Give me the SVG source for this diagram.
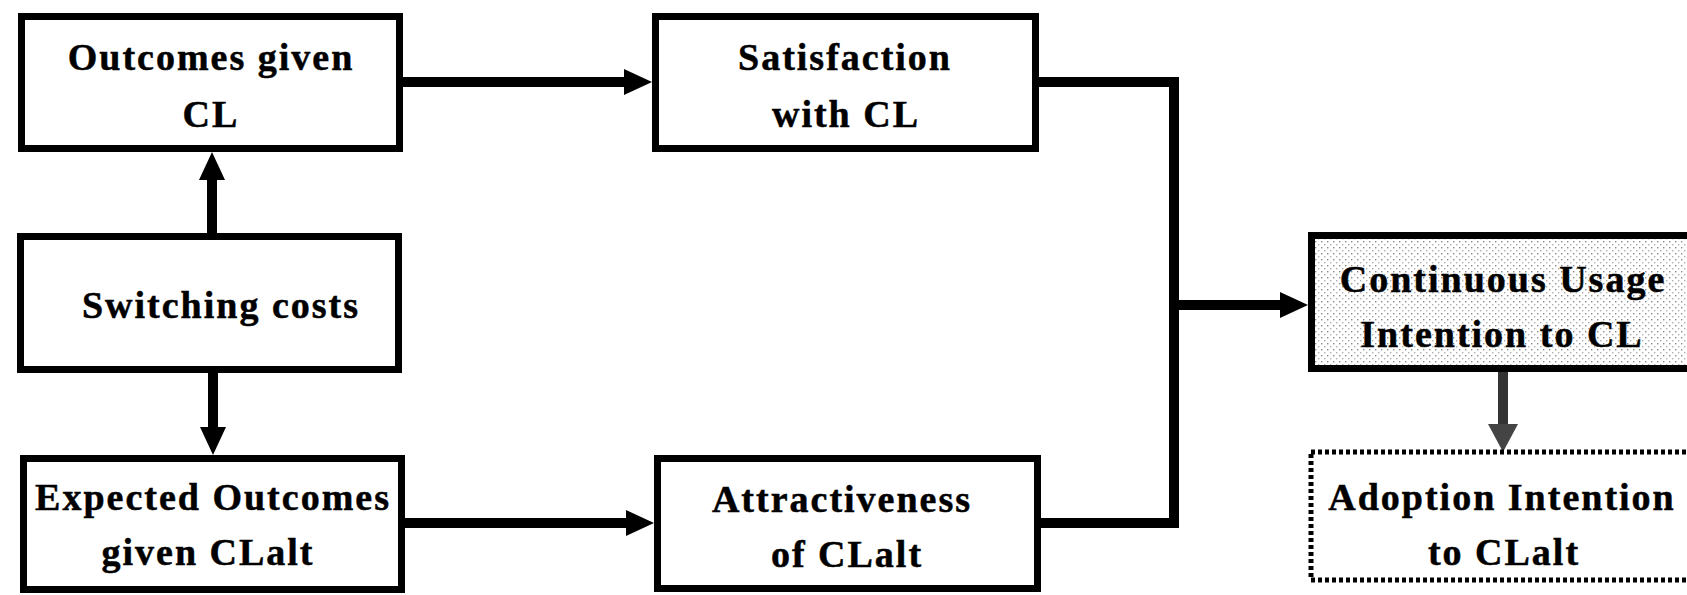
<svg xmlns="http://www.w3.org/2000/svg" width="1687" height="595" viewBox="0 0 1687 595">
<style>
.box{fill:#fff;stroke:#000;stroke-width:7}
.dbox{fill:#fff;stroke:#000;stroke-width:5;stroke-dasharray:4 3}
.lbl{font-family:"Liberation Serif","Times New Roman",serif;font-weight:bold;font-size:38px;letter-spacing:2px;text-anchor:middle;fill:#000;stroke:#000;stroke-width:0.5}
.con{fill:none;stroke:#000;stroke-width:10;stroke-linejoin:miter}
.con2{fill:none;stroke:#333;stroke-width:10}
</style>
<defs>
<pattern id="stip" width="6" height="6" patternUnits="userSpaceOnUse">
<rect width="6" height="6" fill="#fff"/>
<rect x="1" y="1" width="1.4" height="1.4" fill="#8a8a8a"/>
<rect x="4" y="4" width="1.4" height="1.4" fill="#b0b0b0"/>
</pattern>
<marker id="ah" markerUnits="userSpaceOnUse" viewBox="0 0 28 26" refX="0" refY="13" markerWidth="28" markerHeight="26" orient="auto">
<path d="M0,0 L28,13 L0,26 Z" fill="#000"/>
</marker>
<marker id="ah2" markerUnits="userSpaceOnUse" viewBox="0 0 28 30" refX="0" refY="15" markerWidth="28" markerHeight="30" orient="auto">
<path d="M0,0 L28,15 L0,30 Z" fill="#444"/>
</marker>
</defs>

<g id="connectors">
<path class="con" d="M403,82 H624" marker-end="url(#ah)"/>
<path class="con" d="M405,523 H626" marker-end="url(#ah)"/>
<path class="con" d="M212,233 V180" marker-end="url(#ah)"/>
<path class="con" d="M213,373 V427" marker-end="url(#ah)"/>
<path class="con" d="M1039,82 H1174 V305"/>
<path class="con" d="M1041,523 H1174 V305"/>
<path class="con" d="M1174,305 H1280" marker-end="url(#ah)"/>
<path class="con2" d="M1503,372 V424" marker-end="url(#ah2)"/>
</g>

<g id="outcomes">
<rect class="box" x="21.5" y="16.5" width="378" height="132"/>
<text class="lbl" x="211" y="70">Outcomes given</text>
<text class="lbl" x="211" y="127">CL</text>
</g>

<g id="satisfaction">
<rect class="box" x="655.5" y="16.5" width="380" height="132"/>
<text class="lbl" x="845" y="70">Satisfaction</text>
<text class="lbl" x="846" y="127">with CL</text>
</g>

<g id="switching">
<rect class="box" x="20.5" y="236.5" width="378" height="133"/>
<text class="lbl" x="221" y="318">Switching costs</text>
</g>

<g id="expected">
<rect class="box" x="23.5" y="458.5" width="378" height="131"/>
<text class="lbl" x="213" y="510">Expected Outcomes</text>
<text class="lbl" x="208" y="565">given CLalt</text>
</g>

<g id="attractiveness">
<rect class="box" x="657.5" y="458.5" width="380" height="130"/>
<text class="lbl" x="842" y="512">Attractiveness</text>
<text class="lbl" x="847" y="567">of CLalt</text>
</g>

<g id="continuous">
<rect class="box" x="1311.5" y="235.5" width="400" height="133" fill="url(#stip)" style="fill:url(#stip)"/>
<text class="lbl" x="1503" y="292">Continuous Usage</text>
<text class="lbl" x="1502" y="347">Intention to CL</text>
</g>

<g id="adoption">
<rect class="dbox" x="1311" y="452" width="400" height="128"/>
<text class="lbl" x="1502" y="510">Adoption Intention</text>
<text class="lbl" x="1504" y="565">to CLalt</text>
</g>
</svg>
